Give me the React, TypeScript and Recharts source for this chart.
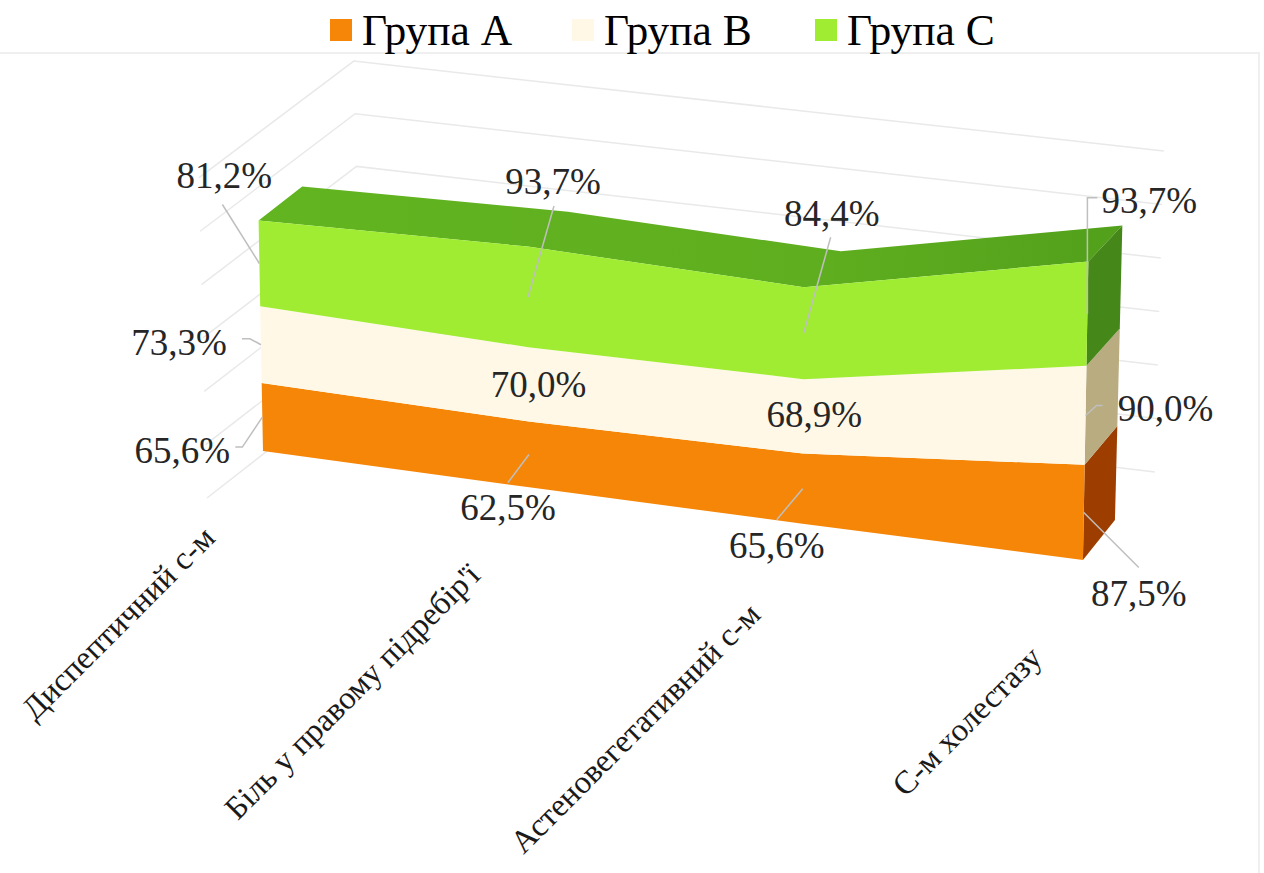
import { ScatterChart, Scatter, XAxis, YAxis, Legend } from 'recharts';

const CATEGORIES = ['Диспептичний с-м', 'Біль у правому підребір\'ї', 'Астеновегетативний с-м', 'С-м холестазу'];
const GROUP_NAMES = ['Група А', 'Група В', 'Група С'];
const GROUP_A = [65.6, 62.5, 65.6, 87.5];
const GROUP_B = [73.3, 70.0, 68.9, 90.0];
const GROUP_C = [81.2, 93.7, 84.4, 93.7];
const GROUPS = [GROUP_A, GROUP_B, GROUP_C];
const GRID_TICKS = [0, 50, 100, 150, 200, 250, 300];

const FRONT_COLORS = ['#f58608', '#fff8e6', '#9fec33'];
const SIDE_COLORS = ['#9e3d00', '#b9ac80', '#46871a'];
const GRID_COLOR = '#e9e9e9';
const LEADER_COLOR = '#bfbfbf';
const LABEL_COLOR = '#262626';
const FONT = '"Liberation Serif", serif';

// pixel offsets of each value label and its leader, from the middle of its band
type LabelLayout = { text: number[]; leader: number[][] };
const LABEL_LAYOUT: LabelLayout[][] = [
  [
    { text: [-80, 46], leader: [[-20, 30], [-27, 30]] },
    { text: [-21, 66], leader: [[-21, 28]] },
    { text: [-26, 69], leader: [[-26, 31]] },
    { text: [55, 93], leader: [[55, 55]] },
  ],
  [
    { text: [-82, 10], leader: [[-11, -6], [-19, -6]] },
    { text: [10, 13], leader: [] },
    { text: [11, 11], leader: [] },
    { text: [80, 6], leader: [[11, -10], [17, -10]] },
  ],
  [
    { text: [-35, -76], leader: [[-37, -59]] },
    { text: [25, -103], leader: [[26, -91]] },
    { text: [28, -107], leader: [[27, -96]] },
    { text: [62, -101], leader: [[0, -116], [10, -116]] },
  ],
];
const CATEGORY_LABEL_OFFSETS = [[-54, 81], [-55, 82], [-48, 85], [-47, 92]];

// One x unit is one category step, one y unit is one stacked percent at the front left.
const X_DOMAIN = [-0.9622, 3.6625];
const Y_DOMAIN = [-422, 451];
const X_UNIT_PX = 273.33;

// Perspective view of the stacked ribbon: category, stacked height, depth (0 front, 1 back).
function project(cat: number, stacked: number, depth = 0) {
  const lean = -0.02 + 0.0133 * cat;
  const stretch = 1.032 + 0.0165 * cat + 0.00007 * stacked;
  const px = depth * (42 - 3.33 * cat + 0.0074 * stacked);
  const py = depth * (37.3 + 0.9 * cat - 0.0148 * stacked);
  return {
    x: 0.013 * cat * cat + 0.961 * cat + (lean * stacked + px) / X_UNIT_PX,
    y: stacked * stretch - 36.33 * cat + py,
  };
}

const cumulative = (level: number, cat: number) =>
  GROUPS.slice(0, level + 1).reduce((sum, group) => sum + group[cat], 0);

const catIndexes = CATEGORIES.map((_, i) => i);
const lastCat = CATEGORIES.length - 1;

const frontFaces = GROUPS.map((_, level) => [
  ...catIndexes.map((i) => project(i, cumulative(level, i))),
  ...[...catIndexes].reverse().map((i) => project(i, level === 0 ? 0 : cumulative(level - 1, i))),
]);

const sideFaces = GROUPS.map((_, level) => {
  const low = level === 0 ? 0 : cumulative(level - 1, lastCat);
  const high = cumulative(level, lastCat);
  return [project(lastCat, low), project(lastCat, high), project(lastCat, high, 1), project(lastCat, low, 1)];
});

const topFace = [
  ...catIndexes.map((i) => project(i, cumulative(2, i))),
  ...[...catIndexes].reverse().map((i) => project(i, cumulative(2, i), 1)),
];

// Floor and walls: front left end, back corner, right end of every gridline.
const gridLines = GRID_TICKS.map((t) => [
  { x: -0.2049 - 0.0001 * t, y: -47 + 1.067 * t },
  { x: 0.3622 - 0.0001 * t, y: 74 + 1.053 * t },
  { x: 3.263 + 0.00011 * t, y: -21 + 1.07 * t },
]);

const valueLabels = GROUPS.flatMap((group, level) =>
  group.map((value, i) => {
    const low = level === 0 ? 0 : cumulative(level - 1, i);
    return {
      ...project(i, low + value / 2),
      label: value.toFixed(1).replace('.', ',') + '%',
      layout: LABEL_LAYOUT[level][i],
    };
  }),
);

const categoryLabels = CATEGORIES.map((name, i) => ({
  ...project(i, 0),
  name,
  offset: CATEGORY_LABEL_OFFSETS[i],
}));

const noDot = () => <g />;

const polygonLine = (fill: string) => (props: any) => (
  <polygon points={props.points.map((p: any) => `${p.x},${p.y}`).join(' ')} fill={fill} stroke="none" />
);

const gridLine = (props: any) => (
  <polyline
    points={props.points.map((p: any) => `${p.x},${p.y}`).join(' ')}
    fill="none"
    stroke={GRID_COLOR}
    strokeWidth={1.5}
  />
);

function ValueLabel(props: any) {
  const { cx, cy, payload } = props;
  const { text, leader } = payload.layout as LabelLayout;
  const path = [[0, 0], ...leader].map(([dx, dy]) => `${cx + dx},${cy + dy}`).join(' ');
  return (
    <g>
      {leader.length > 0 && <polyline points={path} fill="none" stroke={LEADER_COLOR} strokeWidth={1.5} />}
      <text x={cx + text[0]} y={cy + text[1]} textAnchor="middle" fontFamily={FONT} fontSize={37} fill={LABEL_COLOR}>
        {payload.label}
      </text>
    </g>
  );
}

function CategoryLabel(props: any) {
  const { cx, cy, payload } = props;
  const x = cx + payload.offset[0];
  const y = cy + payload.offset[1];
  return (
    <text
      x={x}
      y={y}
      textAnchor="end"
      dominantBaseline="central"
      transform={`rotate(-45 ${x} ${y})`}
      fontFamily={FONT}
      fontSize={32.5}
      fill="#1a1a1a"
    >
      {payload.name}
    </text>
  );
}

function GroupLegend() {
  return (
    <div style={{ position: 'relative', width: 1264, height: 0, fontFamily: FONT, fontSize: 43.5, color: '#000' }}>
      {GROUP_NAMES.map((name, i) => (
        <div key={name} style={{ position: 'absolute', left: [330, 572, 815][i], top: 5, display: 'flex', alignItems: 'center', whiteSpace: 'nowrap' }}>
          <span style={{ width: 22, height: 22, marginRight: 10, background: FRONT_COLORS[i] }} />
          <span>{name}</span>
        </div>
      ))}
    </div>
  );
}

export default function App() {
  return (
    <div style={{ position: 'absolute', left: 0, top: 0, width: 1264, height: 873, background: '#fff' }}>
      <div
        style={{
          position: 'absolute',
          left: 0,
          top: 52,
          width: 1258,
          height: 821,
          borderTop: '2px solid #efefef',
          borderRight: '2px solid #efefef',
        }}
      />
      <ScatterChart width={1264} height={873} margin={{ top: 0, right: 0, bottom: 0, left: 0 }}>
        <defs>
          <linearGradient id="topFaceFill" x1="0" y1="0" x2="1" y2="0">
            <stop offset="0%" stopColor="#62b420" />
            <stop offset="65%" stopColor="#5fae1f" />
            <stop offset="100%" stopColor="#52a01b" />
          </linearGradient>
        </defs>
        <XAxis type="number" dataKey="x" domain={X_DOMAIN} hide allowDataOverflow />
        <YAxis type="number" dataKey="y" domain={Y_DOMAIN} hide allowDataOverflow />
        <Legend content={<GroupLegend />} verticalAlign="top" wrapperStyle={{ top: 0, left: 0, height: 0 }} />
        {gridLines.map((points, i) => (
          <Scatter key={`grid-${i}`} data={points} line={gridLine} shape={noDot} isAnimationActive={false} />
        ))}
        <Scatter data={topFace} line={polygonLine('url(#topFaceFill)')} shape={noDot} isAnimationActive={false} />
        {sideFaces.map((points, i) => (
          <Scatter key={`side-${i}`} data={points} line={polygonLine(SIDE_COLORS[i])} shape={noDot} isAnimationActive={false} />
        ))}
        {frontFaces.map((points, i) => (
          <Scatter key={GROUP_NAMES[i]} name={GROUP_NAMES[i]} data={points} line={polygonLine(FRONT_COLORS[i])} shape={noDot} isAnimationActive={false} />
        ))}
        <Scatter data={valueLabels} shape={ValueLabel} isAnimationActive={false} />
        <Scatter data={categoryLabels} shape={CategoryLabel} isAnimationActive={false} />
      </ScatterChart>
    </div>
  );
}
